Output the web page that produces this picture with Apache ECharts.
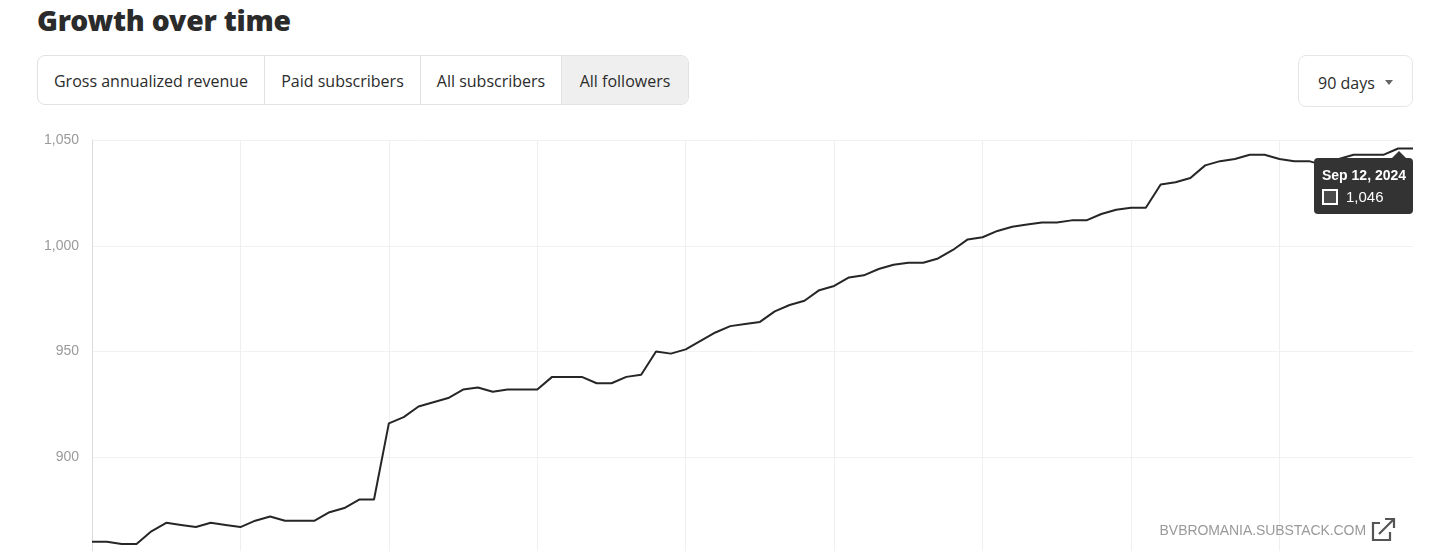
<!DOCTYPE html>
<html>
<head>
<meta charset="utf-8">
<script src="https://cdn.jsdelivr.net/npm/echarts@6/dist/echarts.min.js"></script>
<style>
  html, body { margin: 0; padding: 0; width: 1456px; height: 551px; overflow: hidden; background: #fff; }
  #title { position: absolute; left: 37px; top: 1px; font-family: "Noto Sans", sans-serif; font-weight: 900; font-size: 28.3px; color: #2b2b2b; letter-spacing: -0.2px; }
  #seg { position: absolute; left: 37px; top: 55px; height: 48px; border: 1px solid #e2e2e2; border-radius: 8px; display: flex; overflow: hidden; }
  #seg div { height: 48px; line-height: 50px; text-align: center; font-family: "Open Sans", sans-serif; font-size: 16px; color: #2b2b2b; border-left: 1px solid #e2e2e2; box-sizing: border-box; }
  #seg div:first-child { border-left: none; }
  #seg div.active { background: #efefef; }
  #dd { position: absolute; left: 1298px; top: 55px; width: 113px; height: 50px; border: 1px solid #e6e6e6; border-radius: 8px; font-family: "Open Sans", sans-serif; font-size: 16px; color: #2b2b2b; line-height: 54px; }
  #dd span.t { position: absolute; left: 19px; top: 0; }
  #dd span.c { position: absolute; left: 86px; top: 24px; width: 0; height: 0; border-left: 4px solid transparent; border-right: 4px solid transparent; border-top: 5px solid #666; }
  #chart { position: absolute; left: 0; top: 120px; width: 1456px; height: 443px; }
  #wm { position: absolute; left: 1100px; top: 522px; width: 266px; text-align: right; font-family: "Liberation Sans", Arial, sans-serif; font-size: 14px; color: #9a9a9a; letter-spacing: -0.08px; z-index: 5; }
  #ico { position: absolute; left: 1371px; top: 517px; z-index: 5; }
</style>
</head>
<body>
<div id="chart"></div>
<div id="title">Growth over time</div>
<div id="seg">
  <div style="width:226px">Gross annualized revenue</div>
  <div style="width:156px">Paid subscribers</div>
  <div style="width:141px">All subscribers</div>
  <div class="active" style="width:127px">All followers</div>
</div>
<div id="dd"><span class="t">90 days</span><span class="c"></span></div>
<div id="wm">BVBROMANIA.SUBSTACK.COM</div>
<svg id="ico" width="26" height="26" viewBox="0 0 26 26">
  <path d="M9 6 H2 V23 H19 V15" fill="none" stroke="#555" stroke-width="2.2"/>
  <path d="M8 17 L23 2 M14 2 H23 V11" fill="none" stroke="#555" stroke-width="2.2"/>
</svg>
<script>
const dates = [
  'Jun 15, 2024','Jun 16, 2024','Jun 17, 2024','Jun 18, 2024','Jun 19, 2024','Jun 20, 2024','Jun 21, 2024','Jun 22, 2024',
  'Jun 23, 2024','Jun 24, 2024','Jun 25, 2024','Jun 26, 2024','Jun 27, 2024','Jun 28, 2024','Jun 29, 2024','Jun 30, 2024',
  'Jul 1, 2024','Jul 2, 2024','Jul 3, 2024','Jul 4, 2024','Jul 5, 2024','Jul 6, 2024','Jul 7, 2024','Jul 8, 2024',
  'Jul 9, 2024','Jul 10, 2024','Jul 11, 2024','Jul 12, 2024','Jul 13, 2024','Jul 14, 2024','Jul 15, 2024','Jul 16, 2024',
  'Jul 17, 2024','Jul 18, 2024','Jul 19, 2024','Jul 20, 2024','Jul 21, 2024','Jul 22, 2024','Jul 23, 2024','Jul 24, 2024',
  'Jul 25, 2024','Jul 26, 2024','Jul 27, 2024','Jul 28, 2024','Jul 29, 2024','Jul 30, 2024','Jul 31, 2024',
  'Aug 1, 2024','Aug 2, 2024','Aug 3, 2024','Aug 4, 2024','Aug 5, 2024','Aug 6, 2024','Aug 7, 2024','Aug 8, 2024',
  'Aug 9, 2024','Aug 10, 2024','Aug 11, 2024','Aug 12, 2024','Aug 13, 2024','Aug 14, 2024','Aug 15, 2024','Aug 16, 2024',
  'Aug 17, 2024','Aug 18, 2024','Aug 19, 2024','Aug 20, 2024','Aug 21, 2024','Aug 22, 2024','Aug 23, 2024','Aug 24, 2024',
  'Aug 25, 2024','Aug 26, 2024','Aug 27, 2024','Aug 28, 2024','Aug 29, 2024','Aug 30, 2024','Aug 31, 2024',
  'Sep 1, 2024','Sep 2, 2024','Sep 3, 2024','Sep 4, 2024','Sep 5, 2024','Sep 6, 2024','Sep 7, 2024','Sep 8, 2024',
  'Sep 9, 2024','Sep 10, 2024','Sep 11, 2024','Sep 12, 2024'
];
const followers = [
  860, 860, 859, 859, 865, 869, 868, 867, 869, 868,
  867, 870, 872, 870, 870, 870, 874, 876, 880, 880,
  916, 919, 924, 926, 928, 932, 933, 931, 932, 932,
  932, 938, 938, 938, 935, 935, 938, 939, 950, 949,
  951, 955, 959, 962, 963, 964, 969, 972, 974, 979,
  981, 985, 986, 989, 991, 992, 992, 994, 998, 1003,
  1004, 1007, 1009, 1010, 1011, 1011, 1012, 1012, 1015, 1017,
  1018, 1018, 1029, 1030, 1032, 1038, 1040, 1041, 1043, 1043,
  1041, 1040, 1040, 1038, 1041, 1043, 1043, 1043, 1046, 1046
];
const yTicks = [850, 900, 950, 1000, 1050];

const fmt = v => String(v).replace(/\B(?=(\d{3})+(?!\d))/g, ',');

const chart = echarts.init(document.getElementById('chart'), null, { renderer: 'canvas' });
chart.setOption({
  animation: false,
  grid: { left: 92, right: 43, top: 20, bottom: 0, containLabel: false, outerBoundsMode: 'none' },
  xAxis: {
    type: 'category',
    data: dates,
    boundaryGap: false,
    axisLine: { show: false },
    axisTick: { show: false },
    axisLabel: { show: false },
    splitLine: { show: true, interval: 9, lineStyle: { color: '#efefef', width: 1 } }
  },
  yAxis: {
    type: 'value',
    min: yTicks[0],
    max: yTicks[yTicks.length - 1],
    interval: 50,
    axisLine: { show: true, lineStyle: { color: '#dcdcdc', width: 1 } },
    axisTick: { show: false },
    axisLabel: { margin: 13, color: '#9a9a9a', fontSize: 14, fontFamily: 'Liberation Sans, Arial, sans-serif', showMinLabel: false, formatter: v => fmt(v) },
    splitLine: { show: true, lineStyle: { color: '#f2f2f2', width: 1 } }
  },
  tooltip: {
    trigger: 'axis',
    triggerOn: 'none',
    alwaysShowContent: true,
    axisPointer: { type: 'none' },
    backgroundColor: '#333333',
    borderWidth: 0,
    padding: [8, 7, 7, 8],
    extraCssText: 'box-shadow:none;border-radius:4px;overflow:visible;',
    position: function (point, params, dom, rect, size) {
      return [point[0] - size.contentSize[0], point[1] + 10];
    },
    formatter: function (params) {
      const p = params[0];
      return '<div style="position:absolute;right:7px;top:-7px;width:0;height:0;border-left:7px solid transparent;border-right:7px solid transparent;border-bottom:7px solid #333;"></div>' +
        '<div style="font-family:Liberation Sans,Arial,sans-serif;font-weight:bold;font-size:14px;color:#fff;line-height:18px;">' + p.name + '</div>' +
        '<div style="font-family:Liberation Sans,Arial,sans-serif;font-size:15px;color:#fff;line-height:20px;margin-top:3px;white-space:nowrap;">' +
        '<span style="display:inline-block;width:12px;height:12px;border:2px solid #fff;background:#4a4a4a;vertical-align:-3px;margin-right:8px;margin-left:0px;"></span>' + fmt(p.value) + '</div>';
    }
  },
  series: [{
    name: 'All followers',
    type: 'line',
    data: followers,
    symbol: 'none',
    lineStyle: { color: '#262626', width: 2 },
    emphasis: { disabled: true }
  }]
});
chart.dispatchAction({ type: 'showTip', seriesIndex: 0, dataIndex: followers.length - 1 });
</script>
</body>
</html>
